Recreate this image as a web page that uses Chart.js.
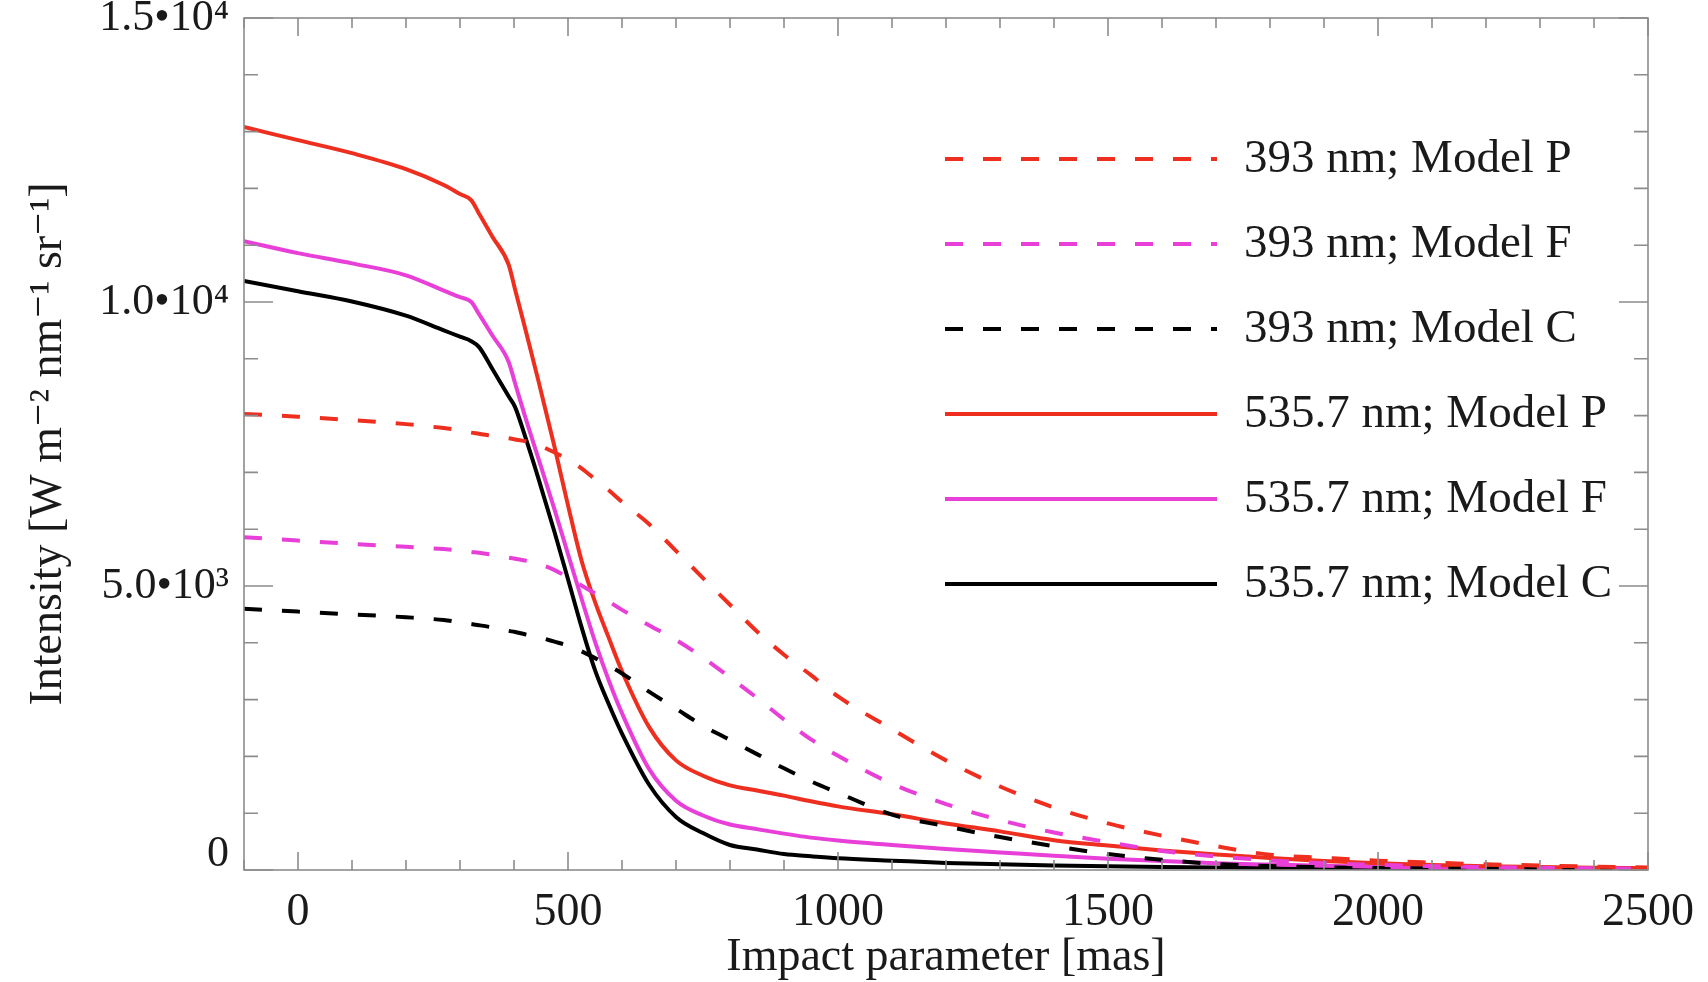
<!DOCTYPE html>
<html>
<head>
<meta charset="utf-8">
<script src="https://cdn.jsdelivr.net/npm/chart.js@4"></script>
<style>
  html, body { margin: 0; padding: 0; background: #fff; }
  #wrap { width: 1708px; height: 982px; }
</style>
</head>
<body>
<div id="wrap"><canvas id="intensityChart"></canvas></div>
<script>
// impact parameter grid [mas]
const impactParam = [-100, 0, 100, 200, 270, 300, 321, 335, 360, 390, 402, 420, 445, 475,
  500, 525, 550, 575, 600, 650, 700, 750, 800, 850, 900, 950, 1000,
  1100, 1200, 1300, 1400, 1500, 1600, 1700, 1800, 1900, 2000, 2100, 2200, 2300, 2400, 2500];

// 393 nm (dashed)
const ca393P = [8030, 7980, 7920, 7850, 7780, 7740, 7700, 7680, 7640, 7600, 7580, 7550, 7480, 7350,
  7230, 7070, 6880, 6690, 6480, 6090, 5620, 5140, 4670, 4200, 3790, 3430, 3055,
  2480, 1930, 1470, 1100, 820, 605, 420, 270, 215, 165, 130, 100, 80, 60, 45];
const ca393F = [5860, 5800, 5740, 5690, 5650, 5625, 5600, 5585, 5550, 5500, 5480, 5450, 5390, 5280,
  5150, 5010, 4870, 4730, 4580, 4310, 4050, 3740, 3390, 3030, 2650, 2300, 2010,
  1520, 1160, 880, 660, 490, 335, 240, 170, 120, 90, 68, 52, 40, 30, 22];
const ca393C = [4600, 4550, 4500, 4450, 4400, 4360, 4330, 4310, 4270, 4210, 4190, 4150, 4100, 4020,
  3950, 3850, 3730, 3600, 3460, 3140, 2840, 2540, 2290, 2040, 1790, 1560, 1360,
  975, 770, 580, 420, 280, 180, 105, 70, 48, 35, 26, 20, 15, 11, 8];

// 535.7 nm (solid)
const fe535P = [13080, 12850, 12620, 12340, 12060, 11900, 11790, 11560, 11150, 10660, 10220, 9560, 8620, 7450,
  6420, 5450, 4720, 4100, 3500, 2520, 1930, 1660, 1490, 1400, 1310, 1210, 1120,
  980, 820, 680, 525, 430, 345, 275, 210, 160, 120, 90, 68, 52, 40, 30];
const fe535F = [11070, 10860, 10680, 10470, 10200, 10085, 10000, 9790, 9410, 8950, 8570, 8000, 7250, 6350,
  5560, 4780, 4020, 3350, 2760, 1780, 1220, 960, 800, 720, 640, 570, 520,
  440, 370, 310, 250, 200, 160, 120, 95, 75, 58, 46, 37, 30, 24, 18];
const fe535C = [10370, 10190, 10010, 9760, 9500, 9390, 9310, 9210, 8820, 8340, 8150, 7650, 6900, 5950,
  5120, 4280, 3520, 2930, 2400, 1505, 935, 650, 440, 360, 280, 240, 206,
  165, 125, 100, 80, 64, 52, 42, 34, 28, 22, 18, 14, 11, 9, 7];

const seriesLabels = ['393 nm; Model P', '393 nm; Model F', '393 nm; Model C',
  '535.7 nm; Model P', '535.7 nm; Model F', '535.7 nm; Model C'];

const xTickValues = [0, 500, 1000, 1500, 2000, 2500];
const yTickValues = [0, 5000, 10000, 15000];
const yTickLabels = ['0', '5.0•10³', '1.0•10⁴', '1.5•10⁴'];

const RED = '#ee2f1f';
const MAGENTA = '#e83fd8';
const BLACK = '#000000';
const SERIF = '"Liberation Serif", "Times New Roman", "DejaVu Serif", serif';
const DASH = [18, 20];

function toPoints(vals) {
  return impactParam.map((x, i) => ({ x: x, y: vals[i] }));
}

function makeSet(label, vals, color, dashed) {
  return {
    label: label,
    data: toPoints(vals),
    borderColor: color,
    backgroundColor: color,
    borderWidth: 4,
    borderDash: dashed ? DASH : [],
    pointRadius: 0,
    fill: false,
    cubicInterpolationMode: 'monotone'
  };
}

// box round the plot + inward ticks on all four sides
const frameTicks = {
  id: 'frameTicks',
  afterDatasetsDraw(chart) {
    const { ctx, chartArea: a, scales: { x, y } } = chart;
    ctx.save();
    ctx.strokeStyle = '#8c8c8c';
    ctx.lineWidth = 1.6;
    ctx.strokeRect(a.left, a.top, a.right - a.left, a.bottom - a.top);
    ctx.beginPath();
    for (let v = -100; v <= 2500; v += 100) {
      const px = x.getPixelForValue(v);
      const len = v % 500 === 0 ? 18 : 10;
      ctx.moveTo(px, a.bottom); ctx.lineTo(px, a.bottom - len);
      ctx.moveTo(px, a.top); ctx.lineTo(px, a.top + len);
    }
    for (let v = 0; v <= 15000; v += 1000) {
      const py = y.getPixelForValue(v);
      const len = v % 5000 === 0 ? 29 : 14;
      ctx.moveTo(a.left, py); ctx.lineTo(a.left + len, py);
      ctx.moveTo(a.right, py); ctx.lineTo(a.right - len, py);
    }
    ctx.stroke();
    ctx.restore();
  }
};

// legend inside the plot, right side
const sideLegend = {
  id: 'sideLegend',
  afterDraw(chart) {
    const { ctx } = chart;
    ctx.save();
    ctx.font = '47px ' + SERIF;
    ctx.textBaseline = 'middle';
    ctx.textAlign = 'left';
    chart.data.datasets.forEach((ds, i) => {
      const rowY = 159 + i * 85;
      ctx.strokeStyle = ds.borderColor;
      ctx.lineWidth = ds.borderWidth;
      ctx.setLineDash(ds.borderDash);
      ctx.beginPath();
      ctx.moveTo(945, rowY);
      ctx.lineTo(1217, rowY);
      ctx.stroke();
      ctx.setLineDash([]);
      ctx.fillStyle = '#1a1a1a';
      ctx.fillText(ds.label, 1244, rowY + 1);
    });
    ctx.restore();
  }
};

new Chart(document.getElementById('intensityChart'), {
  type: 'line',
  data: {
    datasets: [
      makeSet(seriesLabels[0], ca393P, RED, true),
      makeSet(seriesLabels[1], ca393F, MAGENTA, true),
      makeSet(seriesLabels[2], ca393C, BLACK, true),
      makeSet(seriesLabels[3], fe535P, RED, false),
      makeSet(seriesLabels[4], fe535F, MAGENTA, false),
      makeSet(seriesLabels[5], fe535C, BLACK, false)
    ]
  },
  options: {
    responsive: true,
    maintainAspectRatio: false,
    animation: false,
    layout: { padding: { top: 18, right: 60, left: 0, bottom: 0 } },
    plugins: {
      legend: { display: false },
      tooltip: { enabled: false }
    },
    scales: {
      x: {
        type: 'linear',
        min: -100,
        max: 2500,
        afterBuildTicks: s => { s.ticks = xTickValues.map(v => ({ value: v })); },
        afterFit: s => { s.height = 112; s.paddingLeft = 0; s.paddingRight = 0; },
        grid: { display: false, drawTicks: false },
        border: { display: false },
        ticks: {
          padding: 15,
          color: '#1a1a1a',
          maxRotation: 0,
          autoSkip: false,
          font: { family: SERIF, size: 46 },
          callback: v => String(v)
        },
        title: {
          display: true,
          text: 'Impact parameter [mas]',
          color: '#1a1a1a',
          font: { family: SERIF, size: 46, lineHeight: 1 },
          padding: { top: 0, bottom: 1 }
        }
      },
      y: {
        min: 0,
        max: 15000,
        afterBuildTicks: s => { s.ticks = yTickValues.map(v => ({ value: v })); },
        afterFit: s => { s.width = 244; s.paddingTop = 0; s.paddingBottom = 0; },
        grid: { display: false, drawTicks: false },
        border: { display: false },
        ticks: {
          padding: 15,
          color: '#1a1a1a',
          font: { family: SERIF, size: 44, lineHeight: 0.7 },
          callback: v => {
            const lbl = yTickLabels[yTickValues.indexOf(v)];
            return v === 0 ? [lbl, ''] : lbl;
          }
        },
        title: {
          display: true,
          text: 'Intensity [W m⁻² nm⁻¹ sr⁻¹]',
          color: '#1a1a1a',
          font: { family: SERIF, size: 46, lineHeight: 1 },
          padding: { top: 26, bottom: 0 }
        }
      }
    }
  },
  plugins: [frameTicks, sideLegend]
});
</script>
</body>
</html>
